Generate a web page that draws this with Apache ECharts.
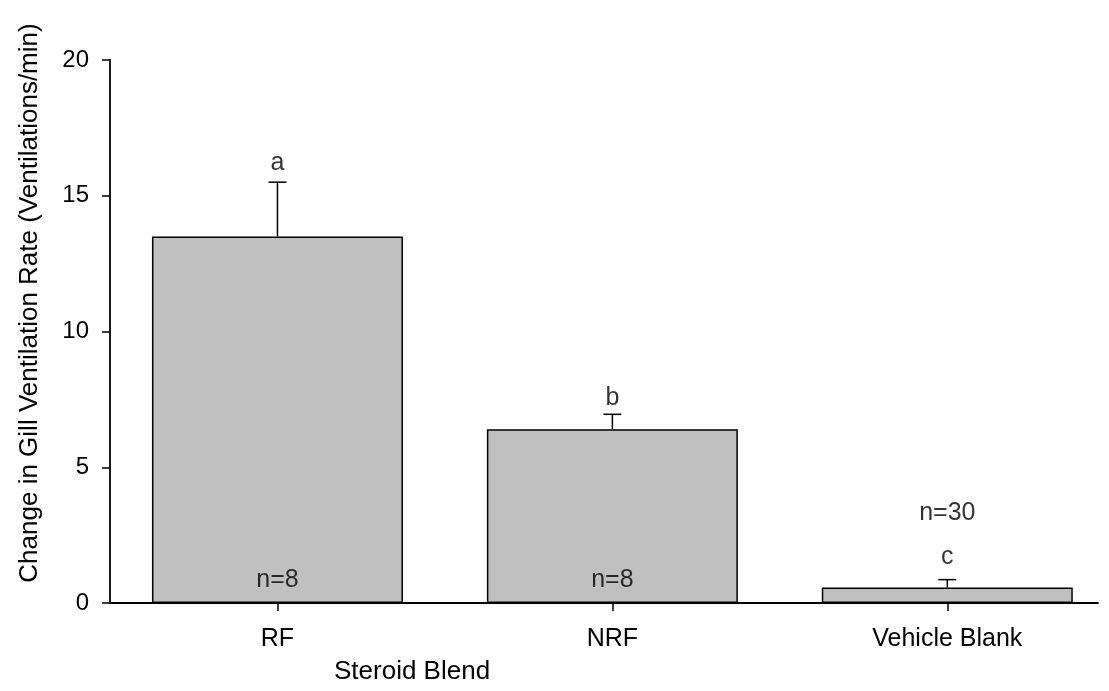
<!DOCTYPE html>
<html>
<head>
<meta charset="utf-8">
<script src="https://cdn.jsdelivr.net/npm/echarts@6/dist/echarts.min.js"></script>
<style>
html,body{margin:0;padding:0;background:#fff;}
#chart{width:1109px;height:691px;}
</style>
</head>
<body>
<div id="chart"></div>
<script>
// ---- data ----
const categories = ['RF', 'NRF', 'Vehicle Blank'];
const means = [13.5, 6.4, 0.57];
const errors = [2.0, 0.55, 0.29];
const letters = ['a', 'b', 'c'];
const letterY = [16.2, 7.55, 1.68];
const nLabels = ['n=8', 'n=8', 'n=30'];
const nLabelY = [0.83, 0.83, 3.3];
const yTicks = [0, 5, 10, 15, 20];
const xTitle = 'Steroid Blend';
const yTitle = 'Change in Gill Ventilation Rate (Ventilations/min)';

const FONT = 'Liberation Sans, Arial, sans-serif';
const idx = categories.map((c, i) => i);

const chart = echarts.init(document.getElementById('chart'), null, {renderer: 'canvas'});

const option = {
  backgroundColor: '#ffffff',
  animation: false,
  grid: {left: 110, right: 11, top: 60, bottom: 88, containLabel: false},
  xAxis: {
    type: 'value',
    min: -0.5,
    max: 2.45,
    axisLine: {show: true, onZero: false, lineStyle: {color: '#000', width: 1.8}},
    axisTick: {show: true, length: 8, customValues: idx, lineStyle: {color: '#000', width: 1.5}},
    axisLabel: {
      show: true, customValues: idx, margin: 24,
      formatter: v => categories[Math.round(v)] || '',
      color: '#000', fontFamily: FONT, fontSize: 25
    },
    splitLine: {show: false}
  },
  yAxis: {
    type: 'value',
    min: 0,
    max: 20,
    interval: 5,
    axisLine: {show: true, onZero: false, lineStyle: {color: '#000', width: 1.8}},
    axisTick: {show: true, length: 8, lineStyle: {color: '#000', width: 1.5}},
    axisLabel: {
      margin: 21, color: '#000', fontFamily: FONT, fontSize: 24,
      formatter: v => (yTicks.indexOf(v) >= 0 ? String(v) : '')
    },
    splitLine: {show: false}
  },
  graphic: [
    {
      type: 'text', left: 334, top: 659,
      style: {text: xTitle, fill: '#000', font: '26px ' + FONT}
    },
    {
      type: 'text', x: 30, y: 303, rotation: Math.PI / 2,
      style: {text: yTitle, fill: '#000', font: '26px ' + FONT, align: 'center', verticalAlign: 'middle'}
    }
  ],
  series: [
    {
      type: 'bar',
      data: idx.map(i => [i, means[i]]),
      barWidth: 251,
      itemStyle: {color: '#c0c0c0', borderColor: '#000', borderWidth: 1.5},
      z: 2
    },
    {
      type: 'custom',
      data: idx.map(i => [i, means[i], means[i] + errors[i]]),
      renderItem: function (params, api) {
        const x = api.value(0);
        const base = api.coord([x, api.value(1)]);
        const top = api.coord([x, api.value(2)]);
        const hw = 9;
        return {
          type: 'group',
          children: [
            {type: 'line', shape: {x1: base[0], y1: base[1], x2: top[0], y2: top[1]}, style: {stroke: '#000', lineWidth: 1.5}},
            {type: 'line', shape: {x1: top[0] - hw, y1: top[1], x2: top[0] + hw, y2: top[1]}, style: {stroke: '#000', lineWidth: 1.5}}
          ]
        };
      },
      z: 3
    },
    {
      type: 'scatter',
      symbolSize: 0,
      data: idx.map(i => ({value: [i, letterY[i]], label: {formatter: letters[i]}})),
      label: {show: true, position: 'inside', color: '#000', fontFamily: FONT, fontSize: 25},
      z: 4
    },
    {
      type: 'scatter',
      symbolSize: 0,
      data: idx.map(i => ({value: [i, nLabelY[i]], label: {formatter: nLabels[i]}})),
      label: {show: true, position: 'inside', color: '#000', fontFamily: FONT, fontSize: 25},
      z: 4
    }
  ]
};
chart.setOption(option);
</script>
</body>
</html>
